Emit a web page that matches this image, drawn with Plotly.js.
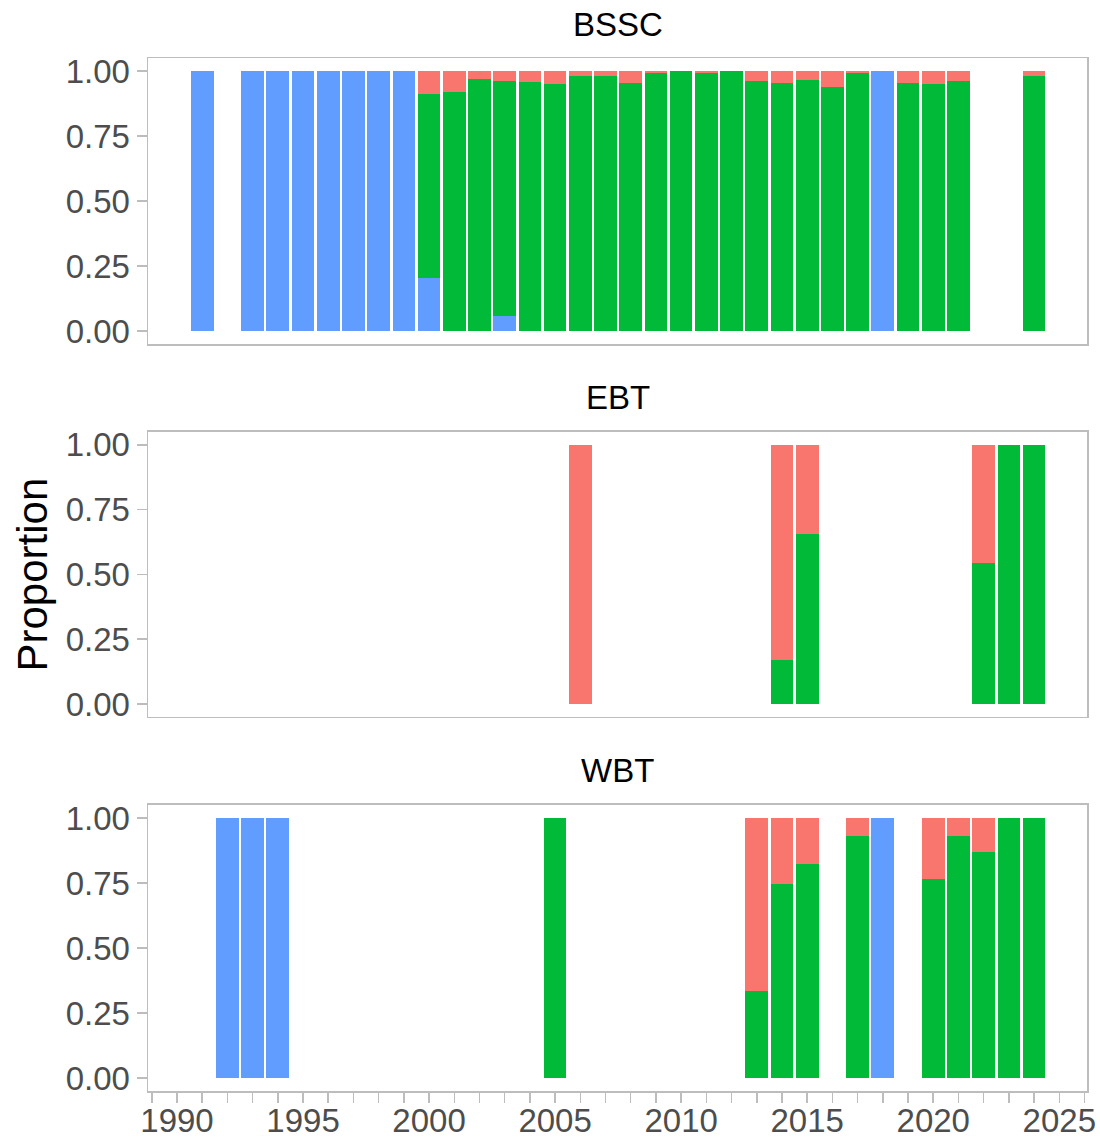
<!DOCTYPE html>
<html>
<head>
<meta charset="utf-8">
<script src="https://cdn.plot.ly/plotly-3.0.1.min.js"></script>
<style>html,body{margin:0;padding:0;background:#fff;}#chart{width:1100px;height:1138px;}</style>
</head>
<body>
<div id="chart"></div>
<script>
// ---- data (proportions per year) ----
const panelNames = ["BSSC", "EBT", "WBT"];
const seriesNames = ["Group 1", "Group 2", "Group 3"]; // red (top), green (middle), blue (bottom)

const bsscYears = [1991,1993,1994,1995,1996,1997,1998,1999,2000,2001,2002,2003,2004,2005,2006,2007,2008,2009,2010,2011,2012,2013,2014,2015,2016,2017,2018,2019,2020,2021,2024];
const bsscBlue  = [1,1,1,1,1,1,1,1,0.204,0,0,0.059,0,0,0,0,0,0,0,0,0,0,0,0,0,0,1,0,0,0,0];
const bsscGreen = [0,0,0,0,0,0,0,0,0.707,0.920,0.968,0.903,0.958,0.949,0.981,0.981,0.953,0.994,1.0,0.994,1.0,0.962,0.953,0.966,0.940,0.992,0,0.955,0.949,0.962,0.981];
const bsscRed   = [0,0,0,0,0,0,0,0,0.089,0.080,0.032,0.038,0.042,0.051,0.019,0.019,0.047,0.006,0,0.006,0,0.038,0.047,0.034,0.060,0.008,0,0.045,0.051,0.038,0.019];

const ebtYears = [2006,2014,2015,2022,2023,2024];
const ebtBlue  = [0,0,0,0,0,0];
const ebtGreen = [0,0.169,0.656,0.546,1,1];
const ebtRed   = [1,0.831,0.344,0.454,0,0];

const wbtYears = [1992,1993,1994,2005,2013,2014,2015,2017,2018,2020,2021,2022,2023,2024];
const wbtBlue  = [1,1,1,0,0,0,0,0,1,0,0,0,0,0];
const wbtGreen = [0,0,0,1,0.333,0.747,0.824,0.930,0,0.765,0.930,0.869,1,1];
const wbtRed   = [0,0,0,0,0.667,0.253,0.176,0.070,0,0.235,0.070,0.131,0,0];

const yTickVals = [0, 0.25, 0.5, 0.75, 1];
const yTickText = ["0.00", "0.25", "0.50", "0.75", "1.00"];

// ---- styling ----
const COLORS = {red: "#F8766D", green: "#00BA38", blue: "#619CFF"};
const FONT = "Liberation Sans, Arial, Helvetica, sans-serif";
const BORDER = "#BDBDBD";
const TICKFONT = {family: FONT, size: 33, color: "#4D4D4D"};

const panels = [
  {years: bsscYears, blue: bsscBlue, green: bsscGreen, red: bsscRed},
  {years: ebtYears, blue: ebtBlue, green: ebtGreen, red: ebtRed},
  {years: wbtYears, blue: wbtBlue, green: wbtGreen, red: wbtRed}
];

const traces = [];
panels.forEach((p, i) => {
  const xa = i === 0 ? "x" : "x" + (i + 1);
  const ya = i === 0 ? "y" : "y" + (i + 1);
  [["blue", seriesNames[2]], ["green", seriesNames[1]], ["red", seriesNames[0]]].forEach(([k, nm]) => {
    traces.push({
      type: "bar", x: p.years, y: p[k], name: nm,
      xaxis: xa, yaxis: ya,
      marker: {color: COLORS[k], line: {width: 0}},
      showlegend: false, hoverinfo: "x+y+name"
    });
  });
});

const xRange = [1988.85, 2026.1];
const domains = [[0.7231, 1], [0.3621, 0.6380], [0, 0.2769]];

function xaxis(i) {
  const bottom = i === 2;
  const ax = {
    range: xRange, anchor: i === 0 ? "y" : "y" + (i + 1),
    showgrid: false, zeroline: false,
    showline: true, mirror: true, linecolor: BORDER, linewidth: 1.5,
    showticklabels: bottom,
    ticks: bottom ? "outside" : "",
    tickmode: "linear", tick0: 1990, dtick: 5,
    ticklen: 10, tickwidth: 1.5, tickcolor: BORDER,
    tickfont: TICKFONT, fixedrange: true
  };
  if (bottom) {
    ax.minor = {dtick: 1, tick0: 1990, ticks: "outside", ticklen: 10, tickwidth: 1.5, tickcolor: BORDER, showgrid: false};
    ax.ticklabelstandoff = -10;
  } else {
    ax.matches = "x3";
  }
  return ax;
}
function yaxis(i) {
  return {
    domain: domains[i], anchor: i === 0 ? "x" : "x" + (i + 1),
    range: [-0.05, 1.05],
    showgrid: false, zeroline: false,
    showline: true, mirror: true, linecolor: BORDER, linewidth: 1.5,
    ticks: "outside", ticklen: 10, tickwidth: 1.5, tickcolor: BORDER,
    tickmode: "array", tickvals: yTickVals, ticktext: yTickText,
    tickfont: TICKFONT, fixedrange: true
  };
}

const annotations = panelNames.map((nm, i) => ({
  text: nm, showarrow: false,
  xref: "paper", x: 0.5, xanchor: "center",
  yref: "paper", y: domains[i][1], yanchor: "middle", yshift: 34,
  font: {family: FONT, size: 33, color: "#000000"}
}));
annotations.push({
  text: "Proportion", showarrow: false, textangle: -90,
  xref: "paper", x: 0, xanchor: "center", xshift: -116,
  yref: "paper", y: 0.5, yanchor: "middle",
  font: {family: FONT, size: 42, color: "#000000"}
});

const layout = {
  width: 1100, height: 1138,
  margin: {l: 148, r: 13, t: 58, b: 47},
  paper_bgcolor: "#FFFFFF", plot_bgcolor: "#FFFFFF",
  barmode: "stack", bargap: 0.1,
  showlegend: false,
  font: {family: FONT},
  xaxis: xaxis(0), xaxis2: xaxis(1), xaxis3: xaxis(2),
  yaxis: yaxis(0), yaxis2: yaxis(1), yaxis3: yaxis(2),
  annotations: annotations
};

Plotly.newPlot("chart", traces, layout, {staticPlot: true, displayModeBar: false});
</script>
</body>
</html>
